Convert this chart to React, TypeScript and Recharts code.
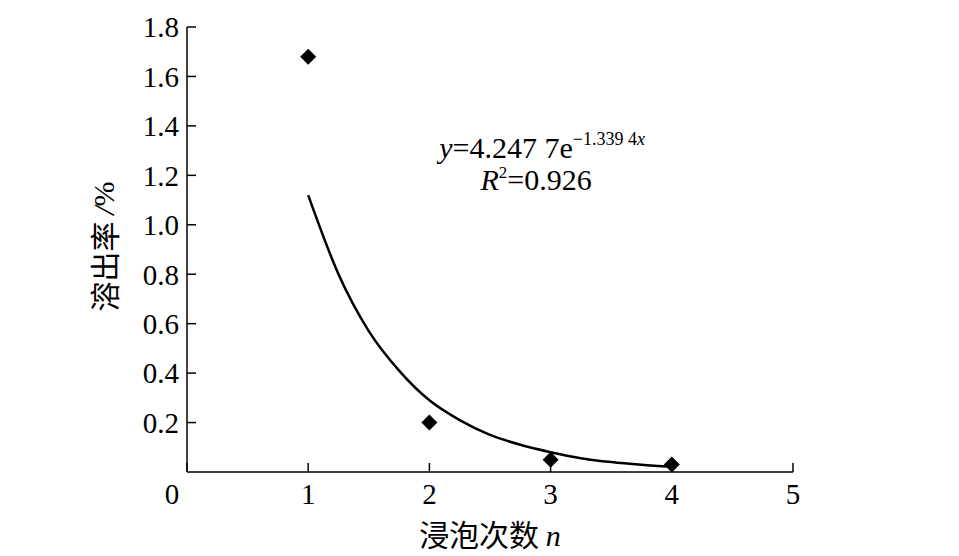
import React from 'react';
import { ComposedChart, XAxis, YAxis, Scatter, Line, ReferenceDot } from 'recharts';

const xTicks = [0, 1, 2, 3, 4, 5];
const yTicks = [0.2, 0.4, 0.6, 0.8, 1.0, 1.2, 1.4, 1.6, 1.8];

const soakCount = [1, 2, 3, 4];
const dissolutionRate = [1.68, 0.2, 0.05, 0.03];

const fitCount = [1, 1.25, 1.5, 1.75, 2, 2.25, 2.5, 2.75, 3, 3.25, 3.5, 3.75, 4];
const fitRate = [1.12, 0.8, 0.57, 0.41, 0.29, 0.21, 0.15, 0.11, 0.08, 0.056, 0.04, 0.029, 0.021];

const points = soakCount.map((n, i) => ({ n, rate: dissolutionRate[i] }));
const fit = fitCount.map((n, i) => ({ n, rate: fitRate[i] }));

const FONT = "'Liberation Serif', 'Times New Roman', 'Noto Sans CJK SC', serif";
const CJK = "'Noto Sans CJK SC', 'Liberation Serif', serif";

const XTick = (props: any) => {
  const { x, y, payload } = props;
  const v = payload.value;
  return (
    <text x={v === 0 ? x - 15 : x} y={y} dy="0.71em" textAnchor="middle" fontFamily={FONT} fontSize={29} fill="#000">
      {String(v)}
    </text>
  );
};

const YTick = (props: any) => {
  const { x, y, payload } = props;
  return (
    <text x={x} y={y} dy="0.355em" textAnchor="end" fontFamily={FONT} fontSize={29} fill="#000">
      {Number(payload.value).toFixed(1)}
    </text>
  );
};

const Diamond = (props: any) => {
  const { cx, cy } = props;
  const r = 8;
  return <polygon points={`${cx},${cy - r} ${cx + r},${cy} ${cx},${cy + r} ${cx - r},${cy}`} fill="#000" />;
};

const XTitle = (props: any) => {
  const vb = props.viewBox || {};
  const cx = vb.x + vb.width / 2;
  return (
    <text x={cx} y={vb.y + 74} textAnchor="middle" fontSize={30} fill="#000">
      <tspan fontFamily={CJK}>浸泡次数 </tspan>
      <tspan fontFamily={FONT} fontStyle="italic">n</tspan>
    </text>
  );
};

const YTitle = (props: any) => {
  const vb = props.viewBox || {};
  const cy = vb.y + vb.height / 2 - 3;
  const cx = 103;
  return (
    <text x={cx} y={cy} textAnchor="middle" dominantBaseline="central" transform={`rotate(-90, ${cx}, ${cy})`} fontSize={30} fill="#000">
      <tspan fontFamily={CJK}>溶出率 </tspan>
      <tspan fontFamily={FONT} fontStyle="italic">/</tspan>
      <tspan fontFamily={FONT}>%</tspan>
    </text>
  );
};

const Equation = (props: any) => {
  const vb = props.viewBox || {};
  const cx = vb.x + (vb.width || 0) / 2;
  const cy = vb.y + (vb.height || 0) / 2;
  return (
    <g fontFamily={FONT} fill="#000">
      <text x={cx} y={cy} textAnchor="middle" fontSize={30}>
        <tspan fontStyle="italic">y</tspan>
        <tspan>=4.247 7e</tspan>
        <tspan fontSize={18} dy={-13}>−1.339 4</tspan>
        <tspan fontSize={18} fontStyle="italic">x</tspan>
      </text>
      <text x={cx - 6} y={cy + 32} textAnchor="middle" fontSize={30}>
        <tspan fontStyle="italic">R</tspan>
        <tspan fontSize={17} dy={-12}>2</tspan>
        <tspan dy={12}>=0.926</tspan>
      </text>
    </g>
  );
};

export default function App() {
  return (
    <div style={{ position: 'absolute', left: 0, top: 0, width: 959, height: 556, background: '#fff' }}>
      <ComposedChart width={959} height={556} margin={{ top: 27, right: 166, bottom: 0, left: 0 }}>
        <XAxis
          type="number"
          dataKey="n"
          domain={[0, 5]}
          ticks={xTicks}
          allowDataOverflow
          height={84}
          tickSize={-9}
          tickMargin={20}
          axisLine={{ stroke: '#000', strokeWidth: 1.5 }}
          tickLine={{ stroke: '#000', strokeWidth: 1.5 }}
          tick={XTick}
          label={XTitle}
        />
        <YAxis
          type="number"
          dataKey="rate"
          domain={[0, 1.8]}
          ticks={yTicks}
          allowDataOverflow
          width={187}
          tickSize={-9}
          tickMargin={17}
          axisLine={{ stroke: '#000', strokeWidth: 1.5 }}
          tickLine={{ stroke: '#000', strokeWidth: 1.5 }}
          tick={YTick}
          label={YTitle}
        />
        <Line
          data={fit}
          dataKey="rate"
          type="monotone"
          stroke="#000"
          strokeWidth={2.5}
          dot={false}
          activeDot={false}
          isAnimationActive={false}
        />
        <Scatter data={points} dataKey="rate" shape={Diamond} isAnimationActive={false} />
        <ReferenceDot x={2.93} y={1.27} r={0} fill="none" stroke="none" label={Equation} />
      </ComposedChart>
    </div>
  );
}
